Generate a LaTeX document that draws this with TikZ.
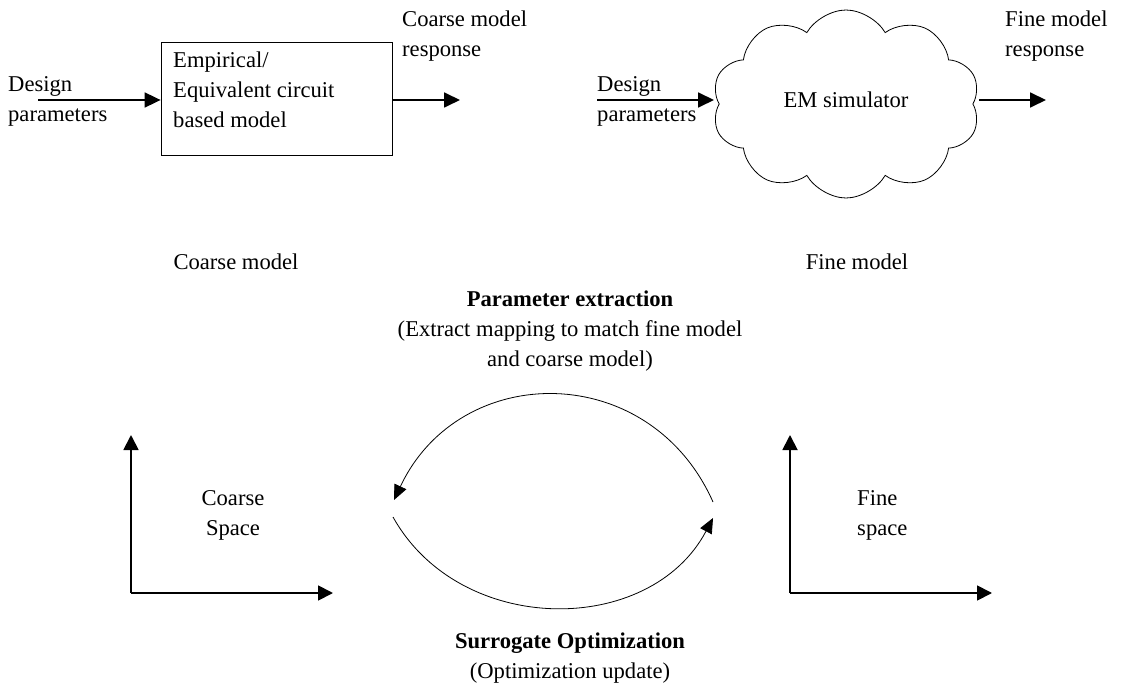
\documentclass[tikz,border=0pt]{standalone}
\usepackage{fontspec}
\setmainfont{Liberation Serif}
\usetikzlibrary{shapes.symbols,arrows.meta}
\begin{document}
\begin{tikzpicture}[x=1pt,y=-1pt,
  every node/.style={font=\fontsize{22.6}{30}\selectfont, inner sep=0pt},
  txt/.style={align=left},
  ctxt/.style={align=center},
  flow/.style={line width=1.8pt,-{Triangle[length=16pt,width=15pt]}},
  axis/.style={line width=1.8pt,-{Triangle[length=15pt,width=15pt]}},
  loop/.style={line width=0.8pt,-{Triangle[length=15pt,width=13pt]}},
  modelbox/.style={draw,line width=0.8pt},
  simcloud/.style={draw,line width=0.8pt,cloud,cloud puffs=10,cloud puff arc=120,
    cloud ignores aspect,minimum width=268pt,minimum height=188pt}]
\useasboundingbox (0,0) rectangle (1140,700);

% ---- coarse model block
\node[modelbox,minimum width=231pt,minimum height=113pt] (box) at (276.5,98.5) {};
\node[txt,anchor=west] (boxtxt) at (173,90) {Empirical/\\Equivalent circuit\\based model};
\node[txt,anchor=west] (din1) at (8,101) {Design\\parameters};
\coordinate (cin) at (38,100);
\coordinate (cout) at (460,100);
\draw[flow] (cin) -- (box.west |- cin);
\draw[flow] (box.east |- cout) -- (cout);
\node[txt,anchor=west] (cresp) at (402,36) {Coarse model\\response};
\node (clabel) at (236,262) {Coarse model};

% ---- fine model block
\node[simcloud] (sim) at (846,104) {};
\node (simtxt) at (846,100) {EM simulator};
\node[txt,anchor=west] (din2) at (597,101) {Design\\parameters};
\coordinate (fin) at (597,100);
\coordinate (fout) at (1046,100);
\draw[flow] (fin) -- (714,100);
\draw[flow] (979,100) -- (fout);
\node[txt,anchor=west] (fresp) at (1005,36) {Fine model\\response};
\node (flabel) at (857,262) {Fine model};

% ---- parameter extraction label
\node[ctxt] (pe) at (570,331) {\textbf{Parameter extraction}\\(Extract mapping to match fine model\\and coarse model)};

% ---- coarse space axes
\coordinate (co) at (131,593);
\coordinate (cy) at (131,435);
\coordinate (cx) at (333,593);
\draw[axis] (co) -- (cy);
\draw[axis] (co) -- (cx);
\node[ctxt] (cspace) at (233,515) {Coarse\\Space};

% ---- fine space axes
\coordinate (fo) at (790,593);
\coordinate (fy) at (790,435);
\coordinate (fx) at (992,593);
\draw[axis] (fo) -- (fy);
\draw[axis] (fo) -- (fx);
\node[txt,anchor=west] (fspace) at (857,515) {Fine\\space};

% ---- mapping loop
\coordinate (tr) at (713,502);
\coordinate (tl) at (394,500);
\coordinate (bl) at (393,517);
\coordinate (br) at (713,518);
\draw[loop] (tr) .. controls (650,360) and (460,360) .. (tl);
\draw[loop] (bl) .. controls (460,637) and (650,637) .. (br);

% ---- surrogate optimization label
\node[ctxt] (so) at (570,658) {\textbf{Surrogate Optimization}\\(Optimization update)};
\end{tikzpicture}
\end{document}
